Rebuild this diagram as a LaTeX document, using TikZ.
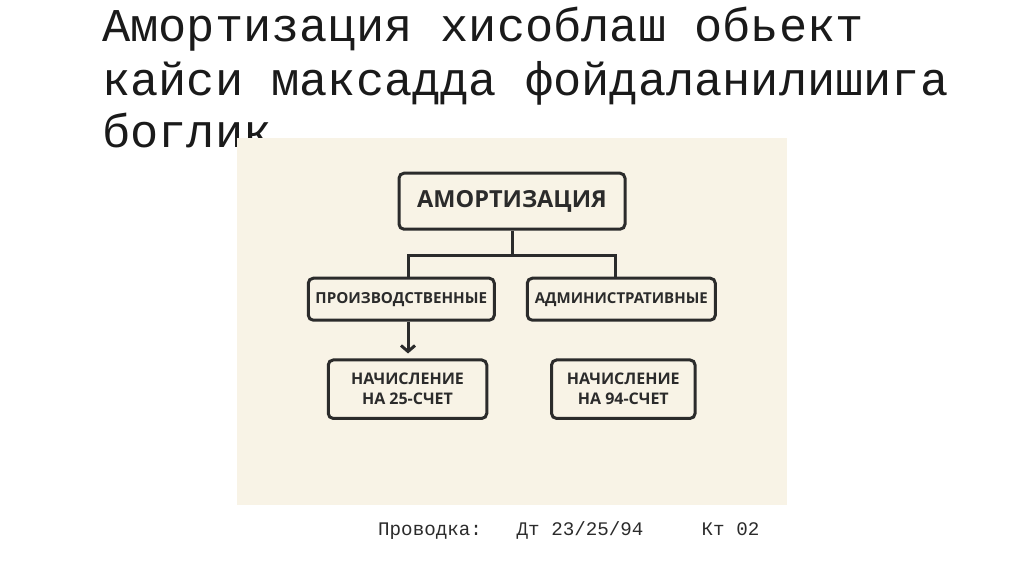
\documentclass[tikz,border=0pt]{standalone}
\usepackage{fontspec}
\usetikzlibrary{arrows.meta}
\newfontfamily\monofam{Liberation Mono}
\newfontfamily\boxfam{Open Sans}
\definecolor{bgbeige}{HTML}{F8F3E6}
\definecolor{ink}{HTML}{2B2B2B}
\definecolor{titleink}{HTML}{1A1A1A}
\tikzset{
  boxnode/.style={draw=ink, line width=3pt, rounded corners=5pt, fill=bgbeige,
    text=ink, inner sep=0pt, align=center, font=\boxfam\bfseries},
  conn/.style={draw=ink, line width=3pt},
  titleline/.style={anchor=base west, inner sep=0pt, text=titleink,
    font=\monofam\fontsize{47}{52}\selectfont},
  footline/.style={anchor=base west, inner sep=0pt, text=ink,
    font=\monofam\fontsize{19.2}{22}\selectfont}
}
\begin{document}
\begin{tikzpicture}[x=1pt,y=-1pt]
\useasboundingbox (0,0) rectangle (1024,574);
\fill[white] (0,0) rectangle (1024,574);
% title
\node[titleline] (t1) at (102,41.7) {Амортизация хисоблаш обьект};
\node[titleline] (t2) at (102,95) {кайси максадда фойдаланилишига};
\node[titleline] (t3) at (102,147.5) {боглик};
% picture background (covers part of the title)
\fill[bgbeige] (237,138) rectangle (787,505);
% boxes
\node[boxnode, minimum width=226pt, minimum height=56pt, font=\boxfam\bfseries\fontsize{23.5}{28}\selectfont]
  (top) at (512,201.2) {АМОРТИЗАЦИЯ};
\node[boxnode, minimum width=186pt, minimum height=42pt, font=\boxfam\bfseries\fontsize{15.2}{17}\selectfont]
  (lm) at (401.3,299.2) {ПРОИЗВОДСТВЕННЫЕ};
\node[boxnode, minimum width=188pt, minimum height=42pt, font=\boxfam\bfseries\fontsize{15}{17}\selectfont]
  (rm) at (621.3,299.2) {АДМИНИСТРАТИВНЫЕ};
\node[boxnode, minimum width=158.5pt, minimum height=58.5pt, font=\boxfam\bfseries\fontsize{16}{20}\selectfont]
  (ll) at (407.5,389.2) {НАЧИСЛЕНИЕ\\НА 25-СЧЕТ};
\node[boxnode, minimum width=143.5pt, minimum height=58.5pt, font=\boxfam\bfseries\fontsize{16}{20}\selectfont]
  (lr) at (623.3,389.2) {НАЧИСЛЕНИЕ\\НА 94-СЧЕТ};
% connectors
\coordinate (jn) at (512,255);
\coordinate (b1) at (408,255);
\coordinate (b2) at (615,255);
\draw[conn] (top.south) -- (jn);
\draw[conn, line join=miter] (lm.north -| b1) -- (b1) -- (b2) -- (rm.north -| b2);
\draw[conn, -{Straight Barb[length=6pt,width=14pt,line width=3pt]}, shorten >=5pt] (lm.south -| b1) -- (ll.north -| b1);
% footer
\node[footline] (f1) at (378,535.7) {Проводка:};
\node[footline] (f2) at (516.5,535.7) {Дт 23/25/94};
\node[footline] (f3) at (701.5,535.7) {Кт 02};
\end{tikzpicture}
\end{document}
